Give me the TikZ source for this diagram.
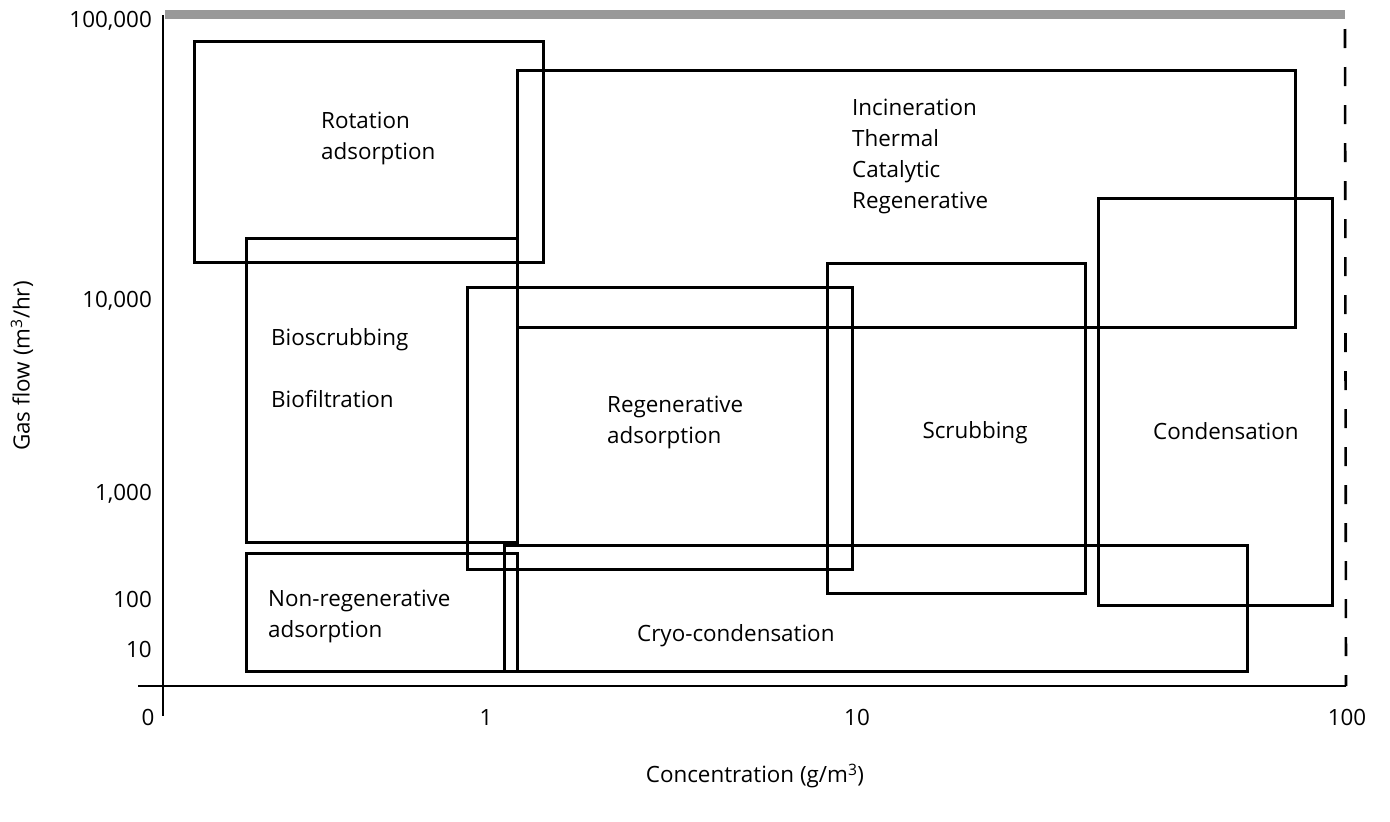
\documentclass[tikz,border=0pt]{standalone}
\usepackage{fontspec}
\setmainfont{Open Sans}
\begin{document}
\begin{tikzpicture}[x=1pt,y=-1pt,
  box/.style={draw=black,line width=2.6pt,inner sep=0pt,anchor=north west},
  lbl/.style={font=\fontsize{22.4}{31}\selectfont,align=left,anchor=west,inner sep=0pt},
  tick/.style={font=\fontsize{22.4}{26}\selectfont,inner sep=0pt},
  axis/.style={line width=2.6pt}]
\useasboundingbox (0,0) rectangle (1390,822);
% axes
\coordinate (ytop) at (163,15);
\coordinate (ybot) at (163,716);
\coordinate (xl) at (138,686);
\coordinate (xr) at (1346,686);
\coordinate (dtop) at (1345,29);
\coordinate (gl) at (165,14);
\coordinate (gr) at (1345,14);
\draw[line width=9pt,color=black!40] (gl) -- (gr);
\draw[axis] (ytop) -- (ybot);
\draw[axis] (xl) -- (xr);
\draw[line width=2.6pt,dash pattern=on 19pt off 19pt] (dtop) -- (xr);
% boxes
\node[box,minimum width=349,minimum height=221] (rot) at (193,40) {};
\node[box,minimum width=778,minimum height=257] (inc) at (516,69) {};
\node[box,minimum width=271,minimum height=304] (bio) at (245,237) {};
\node[box,minimum width=385,minimum height=282] (reg) at (466,286) {};
\node[box,minimum width=258,minimum height=330] (scr) at (826,262) {};
\node[box,minimum width=234,minimum height=407] (con) at (1097,197) {};
\node[box,minimum width=271,minimum height=118] (non) at (245,552) {};
\node[box,minimum width=743,minimum height=126] (cry) at (503,544) {};
% labels
\node[lbl] (trot) at (321,138) {Rotation\\adsorption};
\node[lbl] (tinc) at (852,156) {Incineration\\Thermal\\Catalytic\\Regenerative};
\node[lbl] (tbio1) at (271,340) {Bioscrubbing};
\node[lbl] (tbio2) at (271,399) {Biofiltration};
\node[lbl] (treg) at (607,422) {Regenerative\\adsorption};
\node[lbl,anchor=center] (tscr) at (975,433) {Scrubbing};
\node[lbl] (tcon) at (1153,431) {Condensation};
\node[lbl] (tnon) at (268,616) {Non-regenerative\\adsorption};
\node[lbl] (tcry) at (637,636) {Cryo-condensation};
% ticks
\node[tick,anchor=east] (y5) at (152,21) {100,000};
\node[tick,anchor=east] (y4) at (152,301) {10,000};
\node[tick,anchor=east] (y3) at (152,494) {1,000};
\node[tick,anchor=east] (y2) at (152,599) {100};
\node[tick,anchor=east] (y1) at (152,649) {10};
\node[tick] (x0) at (148,717) {0};
\node[tick] (x1) at (486,717) {1};
\node[tick] (x2) at (857,717) {10};
\node[tick] (x3) at (1347,717) {100};
\node[tick,rotate=90] (ylab) at (22,366) {Gas flow (m\textsuperscript{3}/hr)};
\node[tick] (xlab) at (755,776) {Concentration (g/m\textsuperscript{3})};
\end{tikzpicture}
\end{document}
